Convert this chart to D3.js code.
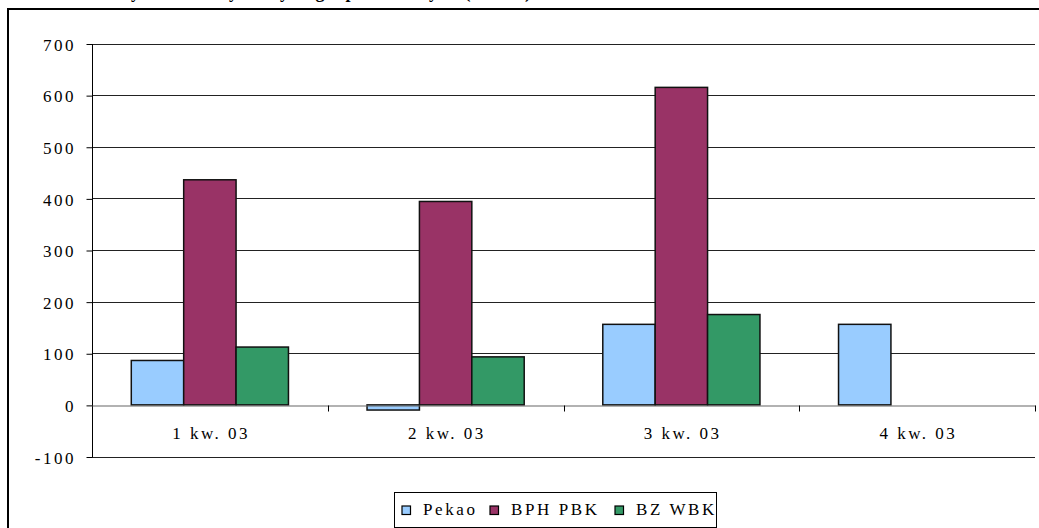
<!DOCTYPE html>
<html><head><meta charset="utf-8">
<script src="https://cdn.jsdelivr.net/npm/d3@7"></script>
<style>
html,body{margin:0;padding:0;background:#fff;overflow:hidden}
text{font-family:"Liberation Serif","Times New Roman",serif;fill:#000}
</style></head>
<body>
<svg id="c" width="1039" height="528"></svg>
<script>
const title = "Zysk netto wybranych grup bankowych (mln zł)";
const categories = ["1 kw. 03", "2 kw. 03", "3 kw. 03", "4 kw. 03"];
const seriesNames = ["Pekao", "BPH PBK", "BZ WBK"];
const pekao = [86, -10, 156, 156];
const bphPbk = [436, 394, 615, null];
const bzWbk = [112, 93, 175, null];
const yTicks = [-100, 0, 100, 200, 300, 400, 500, 600, 700];
const colors = ["#99CCFF", "#993366", "#339966"];

const seriesValues = [pekao, bphPbk, bzWbk];
const svg = d3.select("#c");
const plotL = 92, plotR = 1035, plotT = 43.5, plotB = 456.5;
const LS = 2.5;

// outer frame
svg.append("rect").attr("x", 8).attr("y", 9).attr("width", 1100).attr("height", 600)
  .attr("fill", "none").attr("stroke", "#000").attr("stroke-width", 2);

// title, cut off at the top edge as in the reference
svg.append("text").attr("x", 118).attr("y", -2.5)
  .attr("font-size", 18).attr("font-weight", "bold").style("letter-spacing", "1px")
  .text(title);

const y = d3.scaleLinear().domain([-100, 700]).range([plotB, plotT]);
const x0 = d3.scaleBand().domain(categories).range([plotL, plotR]).padding(0);
const bw = x0.bandwidth();
const pad = bw * 0.75 / 4.5;
const x1 = d3.scaleBand().domain(seriesNames).range([pad, bw - pad]).padding(0);

// gridlines
svg.append("g").selectAll("line").data(yTicks.filter(d => d !== 0)).join("line")
  .attr("x1", plotL).attr("x2", plotR)
  .attr("y1", d => Math.round(y(d)) + 0.5).attr("y2", d => Math.round(y(d)) + 0.5)
  .attr("stroke", "#222").attr("stroke-width", 1);

// y axis
const yAxis = d3.axisLeft(y).tickValues(yTicks).tickSize(6).tickPadding(13)
  .tickFormat(d => d);
const gy = svg.append("g").attr("transform", `translate(${plotL + 0.5},0.5)`).call(yAxis);
gy.select(".domain").attr("stroke", "#000").attr("d", `M0,${y(700)}V${y(-100)}`);
gy.selectAll(".tick line").attr("stroke", "#000");
gy.selectAll(".tick text").attr("font-size", 17).attr("font-family", "Liberation Serif")
  .style("letter-spacing", LS + "px").attr("dx", LS).attr("dy", "0.36em");

// bars
const groups = svg.append("g").selectAll("g").data(categories).join("g")
  .attr("transform", d => `translate(${x0(d)},0)`);
groups.selectAll("rect").data((d, i) => seriesNames.map((s, j) => ({s, j, v: seriesValues[j][i]})).filter(e => e.v !== null))
  .join("rect")
  .attr("x", e => x1(e.s))
  .attr("width", x1.bandwidth())
  .attr("y", e => Math.min(y(e.v), y(0)))
  .attr("height", e => Math.abs(y(e.v) - y(0)))
  .attr("fill", e => colors[e.j])
  .attr("stroke", "#111").attr("stroke-width", 1.5);

// category axis at zero
const xAxis = d3.axisBottom(x0).tickSize(0).tickPadding(0);
const gx = svg.append("g").attr("transform", `translate(0,${Math.round(y(0)) + 0.5})`).call(xAxis);
gx.select(".domain").attr("stroke", "#666").attr("stroke-width", 1.2);
gx.selectAll(".tick text").attr("font-size", 17).attr("font-family", "Liberation Serif")
  .style("letter-spacing", LS + "px").attr("dx", LS / 2).attr("y", 33).attr("dy", 0);
// boundary ticks
const bounds = categories.slice(1).map(c => x0(c)).concat([plotR]);
gx.append("g").selectAll("line").data(bounds).join("line")
  .attr("x1", d => Math.round(d) + 0.5).attr("x2", d => Math.round(d) + 0.5)
  .attr("y1", 0).attr("y2", 6).attr("stroke", "#000");

// legend
const lg = svg.append("g");
lg.append("rect").attr("x", 394.5).attr("y", 492.5).attr("width", 322).attr("height", 35)
  .attr("fill", "#fff").attr("stroke", "#000").attr("stroke-width", 1);
const legX = [402, 490, 615];
seriesNames.forEach((s, j) => {
  lg.append("rect").attr("x", legX[j]).attr("y", 506).attr("width", 8.5).attr("height", 8.5)
    .attr("fill", colors[j]).attr("stroke", "#000").attr("stroke-width", 1.2);
  lg.append("text").attr("x", legX[j] + 21).attr("y", 515)
    .attr("font-size", 17).style("letter-spacing", "2.6px").text(s);
});
</script>
</body></html>
